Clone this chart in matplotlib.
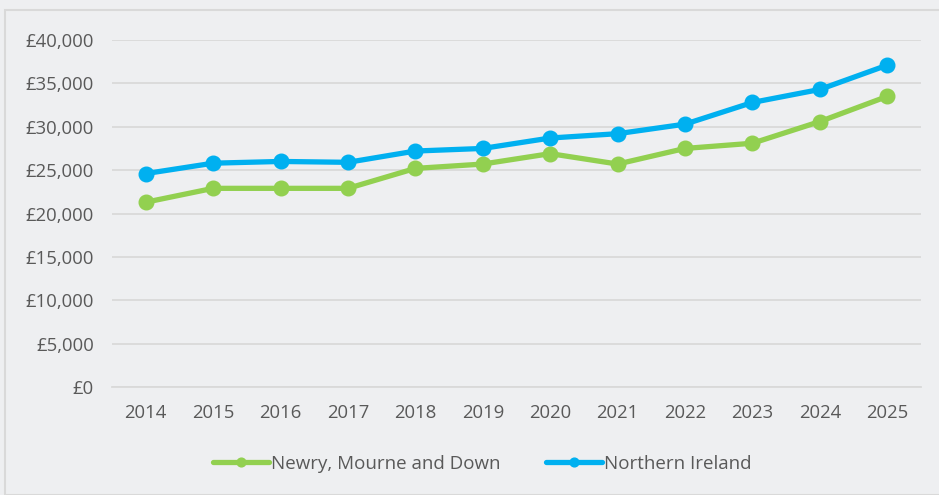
import matplotlib.pyplot as plt
from matplotlib.patches import Rectangle
from matplotlib.ticker import FuncFormatter

years = ['2014', '2015', '2016', '2017', '2018', '2019',
         '2020', '2021', '2022', '2023', '2024', '2025']
newry = [21300, 22900, 22900, 22900, 25200, 25700,
         26900, 25700, 27500, 28100, 30600, 33500]
ni = [24600, 25800, 26000, 25900, 27200, 27500,
      28700, 29200, 30300, 32800, 34300, 37100]

bg = '#EEEFF1'
txt = '#595959'

plt.rcParams['font.family'] = ['Open Sans', 'DejaVu Sans']

fig = plt.figure(figsize=(9.39, 4.95), dpi=100, facecolor=bg)
fig.patches.append(Rectangle((5 / 939, 0.0), 1.0, 1 - 10 / 495, transform=fig.transFigure,
                             fill=False, edgecolor='#D9D9D9', linewidth=1.5))
ax = fig.add_axes([112 / 939, 1 - 387 / 495, (921 - 112) / 939, (387 - 40) / 495])
ax.set_facecolor(bg)

x = range(len(years))
ax.plot(x, newry, color='#92D050', lw=3.8, marker='o', ms=10.5,
        label='Newry, Mourne and Down', solid_capstyle='round', zorder=3)
ax.plot(x, ni, color='#00B0F0', lw=3.8, marker='o', ms=10.5,
        label='Northern Ireland', solid_capstyle='round', zorder=3)

ax.set_xlim(-0.5, len(years) - 0.5)
ax.set_ylim(0, 40000)
ax.set_yticks(range(0, 40001, 5000))
ax.yaxis.set_major_formatter(FuncFormatter(lambda v, p: '£{:,.0f}'.format(v)))
ax.set_xticks(list(x))
ax.set_xticklabels(years)
ax.grid(axis='y', color='#D9D9D9', lw=1.3)
ax.set_axisbelow(True)
for s in ax.spines.values():
    s.set_visible(False)
ax.spines['bottom'].set_visible(True)
ax.spines['bottom'].set_color('#D9D9D9')
ax.spines['bottom'].set_linewidth(1.3)
ax.tick_params(length=0, labelsize=13.3, labelcolor=txt)
ax.tick_params(axis='y', pad=13)
ax.tick_params(axis='x', pad=12)

leg = fig.legend(loc='center', bbox_to_anchor=(482 / 939, 1 - 464 / 495), ncol=2,
                 frameon=False, fontsize=13.5, handlelength=3.0, handletextpad=0.1,
                 columnspacing=2.4, markerscale=0.6)
for t in leg.get_texts():
    t.set_color(txt)

fig.savefig('out.png', dpi=100, facecolor=bg)
